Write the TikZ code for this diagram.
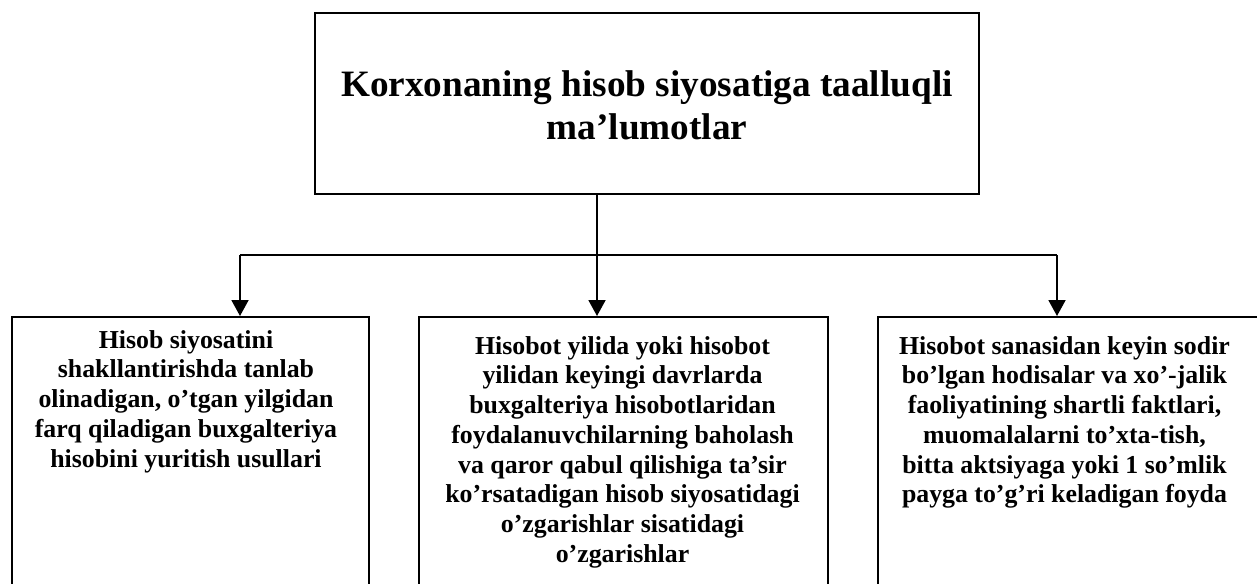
\documentclass[tikz,border=0pt]{standalone}
\usepackage{fontspec}
\setmainfont{Liberation Serif}
\usetikzlibrary{arrows.meta}
\tikzset{
  boxstyle/.style={draw=black, line width=1pt, rectangle, inner sep=0pt},
  bodytext/.style={font=\fontsize{14.7}{16.9}\selectfont\bfseries, align=center, inner sep=0pt, anchor=north},
  titletext/.style={font=\fontsize{21.2}{24.4}\selectfont\bfseries, align=center, inner sep=0pt},
  conn/.style={line width=1.1pt, draw=black},
  arr/.style={conn, -{Triangle[length=0.32cm, width=0.34cm]}}
}
\begin{document}
\begin{tikzpicture}[x=0.02cm, y=-0.02cm]
\useasboundingbox (0,0) rectangle (1257,584);
\clip (0,0) rectangle (1257,584);
\fill[white] (0,0) rectangle (1257,584);
% top box
\node[boxstyle, minimum width=664*0.02cm, minimum height=181*0.02cm] (top) at (647,103.5) {};
\node[titletext] (ttl) at (647,105) {Korxonaning hisob siyosatiga taalluqli\\ma’lumotlar};
% bottom boxes (extend past the lower edge)
\node[boxstyle, minimum width=357*0.02cm, minimum height=320*0.02cm, anchor=north west] (b1) at (11,316) {};
\node[boxstyle, minimum width=409*0.02cm, minimum height=320*0.02cm, anchor=north west] (b2) at (418,316) {};
\node[boxstyle, minimum width=420*0.02cm, minimum height=320*0.02cm, anchor=north west] (b3) at (877,316) {};
% texts
\node[bodytext] (t1) at (186,330) {Hisob siyosatini\\shakllantirishda tanlab\\olinadigan, o’tgan yilgidan\\farq qiladigan buxgalteriya\\hisobini yuritish usullari};
\node[bodytext] (t2) at (622.5,336) {Hisobot yilida yoki hisobot\\yilidan keyingi davrlarda\\buxgalteriya hisobotlaridan\\foydalanuvchilarning baholash\\va qaror qabul qilishiga ta’sir\\ko’rsatadigan hisob siyosatidagi\\o’zgarishlar sisatidagi\\o’zgarishlar};
\node[bodytext] (t3) at (1064.5,336) {Hisobot sanasidan keyin sodir\\bo’lgan hodisalar va xo’-jalik\\faoliyatining shartli faktlari,\\muomalalarni to’xta-tish,\\bitta aktsiyaga yoki 1 so’mlik\\payga to’g’ri keladigan foyda};
% connectors
\coordinate (jm) at (597,255);
\coordinate (jl) at (240,255);
\coordinate (jr) at (1057,255);
\draw[arr] (top.south -| jm) -- (b2.north -| jm);
\draw[conn] (jl) -- (jr);
\draw[arr] (jl) -- (b1.north -| jl);
\draw[arr] (jr) -- (b3.north -| jr);
\end{tikzpicture}
\end{document}
